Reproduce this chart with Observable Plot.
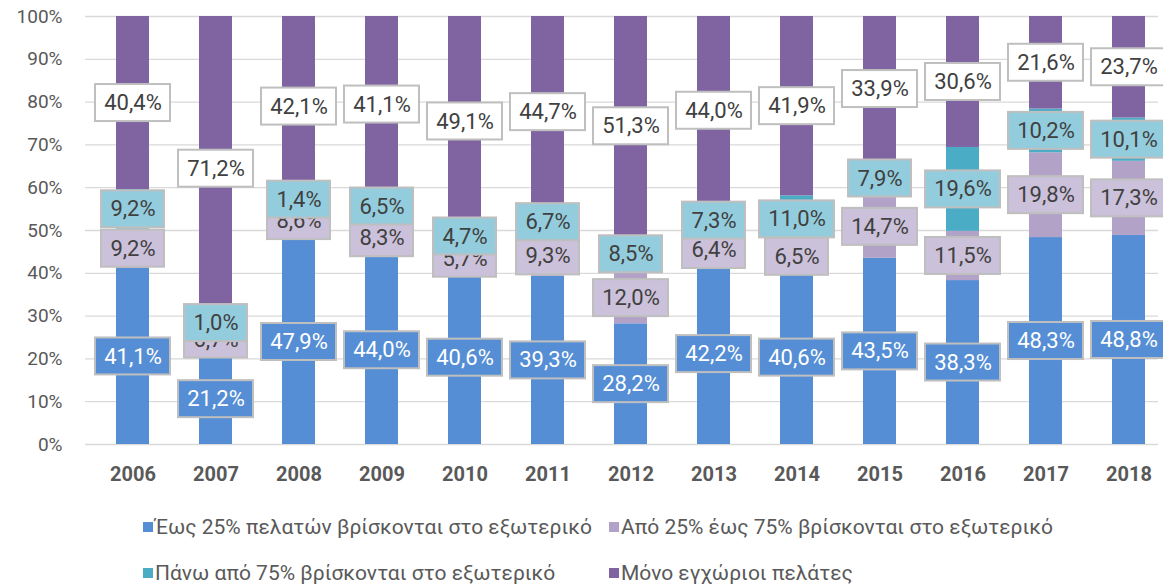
<!DOCTYPE html>
<html>
<head>
<meta charset="utf-8">
<script src="https://cdn.jsdelivr.net/npm/d3@7"></script>
<script src="https://cdn.jsdelivr.net/npm/@observablehq/plot@0.6"></script>
<style>
  html, body { margin: 0; padding: 0; background: #fff; }
  #chart { width: 1163px; }
  .legend { position: relative; width: 1163px; height: 87px; font-family: Roboto, "Noto Sans", sans-serif; font-size: 21px; color: #595959; }
  .legend .item { position: absolute; display: flex; align-items: center; white-space: nowrap; line-height: 24px; }
  .legend .sw { width: 10px; height: 10px; margin-right: 2px; }
</style>
</head>
<body>
<div id="chart"></div>
<script>
const years = ["2006","2007","2008","2009","2010","2011","2012","2013","2014","2015","2016","2017","2018"];
const seriesNames = [
  "Έως 25% πελατών βρίσκονται στο εξωτερικό",
  "Από 25% έως 75% βρίσκονται στο εξωτερικό",
  "Πάνω από 75% βρίσκονται στο εξωτερικό",
  "Μόνο εγχώριοι πελάτες"
];
const upTo25     = [41.1, 21.2, 47.9, 44.0, 40.6, 39.3, 28.2, 42.2, 40.6, 43.5, 38.3, 48.3, 48.8];
const from25to75 = [9.2, 6.7, 8.6, 8.3, 5.7, 9.3, 12.0, 6.4, 6.5, 14.7, 11.5, 19.8, 17.3];
const over75     = [9.2, 1.0, 1.4, 6.5, 4.7, 6.7, 8.5, 7.3, 11.0, 7.9, 19.6, 10.2, 10.1];
const domestic   = [40.4, 71.2, 42.1, 41.1, 49.1, 44.7, 51.3, 44.0, 41.9, 33.9, 30.6, 21.6, 23.7];
const yTicks = [0, 10, 20, 30, 40, 50, 60, 70, 80, 90, 100];

const barColors = ["#558ED5", "#B3A2C7", "#4BACC6", "#8064A2"];
const boxColors = ["#558ED5", "#CCC1DA", "#93CDDD", "#FFFFFF"];
const textColors = ["#FFFFFF", "#404040", "#404040", "#404040"];

const seriesValues = [upTo25, from25to75, over75, domestic];
const fmt = v => v.toFixed(1).replace(".", ",") + "%";

// rows with normalized (100%) stacking
const rows = [];
years.forEach((yr, i) => {
  const total = d3.sum(seriesValues, s => s[i]);
  let cum = 0;
  seriesValues.forEach((s, k) => {
    const v = s[i] / total;
    rows.push({year: yr, series: seriesNames[k], k, value: s[i], y1: cum, y2: cum + v, mid: cum + v / 2, label: fmt(s[i])});
    cum += v;
  });
});

const W = 1163, H = 500, mT = 16, mB = 56, mL = 85, mR = 5;
const unitPx = (H - mT - mB);
const boxH = 37 / unitPx;
const barW = 33;
const font = 'Roboto, "Noto Sans", sans-serif';

const marks = [
  Plot.ruleY(yTicks.map(t => t / 100), {stroke: "#D9D9D9", strokeWidth: 1.3}),
  Plot.axisY({ticks: yTicks.map(t => t / 100), tickFormat: d => Math.round(d * 100) + "%", tickSize: 0, tickPadding: 23, fontSize: 19, fill: "#595959", label: null}),
  Plot.axisX({tickSize: 0, tickPadding: 22, fontSize: 20, fontWeight: "bold", fill: "#595959", label: null}),
  Plot.barY(rows, {x: "year", y1: "y1", y2: "y2", fill: d => barColors[d.k]})
];

for (let k = 0; k < 4; k++) {
  for (const len of [4, 5]) {
    const sub = rows.filter(d => d.k === k && d.label.length === len);
    const boxW = len === 5 ? 75 : 63;
    const inset = -(boxW - barW) / 2;
    marks.push(Plot.barY(sub, {
      x: "year", y1: d => d.mid - boxH / 2, y2: d => d.mid + boxH / 2,
      fill: boxColors[k], stroke: "#BFBFBF", strokeWidth: 2,
      insetLeft: inset, insetRight: inset
    }));
  }
  marks.push(Plot.text(rows.filter(d => d.k === k), {
    x: "year", y: "mid", text: "label", fill: textColors[k], fontSize: 22
  }));
}

const chart = Plot.plot({
  width: W, height: H,
  marginTop: mT, marginBottom: mB, marginLeft: mL, marginRight: mR,
  style: {fontFamily: font, color: "#595959", background: "#fff", overflow: "visible"},
  x: {domain: years, paddingInner: 0.6055, paddingOuter: 0.216, align: 0.69, axis: null},
  y: {domain: [0, 1], axis: null},
  marks
});
document.getElementById("chart").appendChild(chart);

// legend (HTML, below the SVG)
const legend = document.createElement("div");
legend.className = "legend";
const pos = [[143, 15], [609, 15], [143, 61], [609, 61]];
seriesNames.forEach((name, k) => {
  const it = document.createElement("div");
  it.className = "item";
  it.style.left = pos[k][0] + "px";
  it.style.top = pos[k][1] + "px";
  const sw = document.createElement("span");
  sw.className = "sw";
  sw.style.background = barColors[k];
  const tx = document.createElement("span");
  tx.textContent = name;
  it.appendChild(sw);
  it.appendChild(tx);
  legend.appendChild(it);
});
document.body.appendChild(legend);
</script>
</body>
</html>
